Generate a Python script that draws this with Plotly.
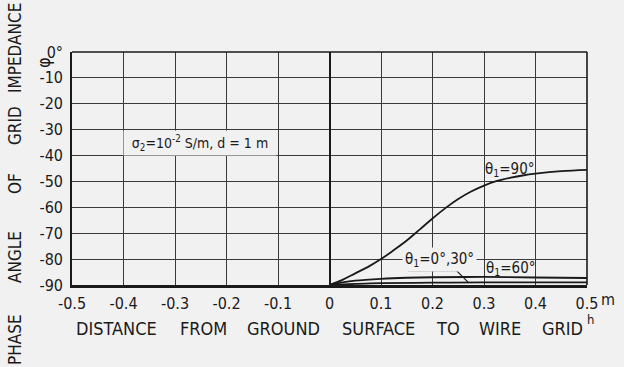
import plotly.graph_objects as go

# Phase angle of grid impedance vs. height of the wire grid above ground
h_90 = [0, 0.025, 0.05, 0.075, 0.1, 0.125, 0.15, 0.175, 0.2, 0.225, 0.25,
        0.275, 0.3, 0.325, 0.35, 0.375, 0.4, 0.45, 0.5]
phi_90 = [-90, -88, -85.5, -83, -80, -76.5, -72.8, -68.6, -64.3, -60.3, -56.8,
          -53.9, -51.6, -49.8, -48.6, -47.7, -47, -46, -45.5]

h_60 = [0, 0.025, 0.05, 0.1, 0.15, 0.2, 0.3, 0.4, 0.5]
phi_60 = [-90, -89, -88.3, -87.6, -87.2, -87.0, -86.9, -87.1, -87.3]

h_0_30 = [0, 0.05, 0.1, 0.2, 0.3, 0.5]
phi_0_30 = [-90, -89.6, -89.3, -89.1, -89.0, -89.0]

x_ticks = [-0.5, -0.4, -0.3, -0.2, -0.1, 0, 0.1, 0.2, 0.3, 0.4, 0.5]
x_ticktext = ["-0.5", "-0.4", "-0.3", "-0.2", "-0.1", "0", "0.1", "0.2", "0.3", "0.4", "0.5"]
y_ticks = [0, -10, -20, -30, -40, -50, -60, -70, -80, -90]
y_ticktext = ["0°", "-10", "-20", "-30", "-40", "-50", "-60", "-70", "-80", "-90"]

y_title_words = ["PHASE", "ANGLE", "OF", "GRID", "IMPEDANCE"]
x_title_words = ["DISTANCE", "FROM", "GROUND", "SURFACE", "TO", "WIRE", "GRID"]

BG = "#f1f1f1"
INK = "#1a1a1a"
FONT = "Liberation Sans Narrow, DejaVu Sans Condensed, Arial Narrow, sans-serif"

# plot-area geometry in pixels, used to place the spaced-out titles
L, R, T, B = 72, 587, 52, 285


def px_x(px):
    return (px - L) / (R - L)


def px_y(py):
    return (B - py) / (B - T)


fig = go.Figure()
for hx, py in [(h_90, phi_90), (h_60, phi_60), (h_0_30, phi_0_30)]:
    fig.add_trace(go.Scatter(x=hx, y=py, mode="lines", line=dict(color=INK, width=1.8),
                             line_shape="spline", showlegend=False, hoverinfo="skip"))

fig.update_layout(
    width=624, height=367,
    margin=dict(l=L, r=624 - R, t=T, b=367 - B),
    paper_bgcolor=BG, plot_bgcolor=BG,
    font=dict(family=FONT, size=15, color=INK),
    showlegend=False,
)
fig.update_xaxes(
    range=[-0.5, 0.5], tickvals=x_ticks, ticktext=x_ticktext,
    showgrid=True, gridcolor="#3a3a3a", gridwidth=1,
    zeroline=True, zerolinecolor=INK, zerolinewidth=2,
    showline=True, linecolor=INK, linewidth=3, mirror=False,
    ticks="", tickfont=dict(size=16), ticklabelstandoff=2,
)
fig.update_yaxes(
    range=[-90, 0], tickvals=y_ticks, ticktext=y_ticktext,
    showgrid=True, gridcolor="#3a3a3a", gridwidth=1,
    zeroline=False,
    showline=True, linecolor=INK, linewidth=1.6, mirror=False,
    ticks="", tickfont=dict(size=16), ticklabelstandoff=4,
)

# top and right frame edges
fig.add_shape(type="line", xref="paper", yref="paper", x0=0, x1=1, y0=1, y1=1,
              line=dict(color=INK, width=1.6))
fig.add_shape(type="line", xref="paper", yref="paper", x0=1, x1=1, y0=0, y1=1,
              line=dict(color=INK, width=1.6))

# parameter box
fig.add_annotation(x=-0.252, y=-35.0, text="σ<sub>2</sub>=10<sup>-2</sup> S/m, d = 1 m",
                   showarrow=False, bgcolor=BG, width=150, height=22, borderpad=1,
                   xanchor="center", yanchor="middle", font=dict(size=14))

# curve labels
fig.add_annotation(x=0.350, y=-45.2, text="θ<sub>1</sub>=90°", showarrow=False,
                   xanchor="center", yanchor="middle", font=dict(size=15))
fig.add_annotation(x=0.213, y=-80.3, text="θ<sub>1</sub>=0°,30°", showarrow=False,
                   bgcolor=BG, borderpad=2, xanchor="center", yanchor="middle",
                   font=dict(size=15))
fig.add_annotation(x=0.353, y=-83.8, text="θ<sub>1</sub>=60°", showarrow=False,
                   xanchor="center", yanchor="middle", font=dict(size=15))
# leader from the 0°,30° label down to its curve
fig.add_shape(type="path", path="M 0.152 -84.5 L 0.247 -84.5 L 0.270 -89.1",
              line=dict(color=INK, width=1.2))

# unit suffix and h marker on the x axis
fig.add_annotation(xref="paper", yref="paper", x=px_x(599), y=px_y(299),
                   xanchor="left", yanchor="middle", text="m", showarrow=False,
                   font=dict(size=16))
fig.add_annotation(xref="paper", yref="paper", x=px_x(590), y=px_y(319),
                   xanchor="center", yanchor="middle", text="h", showarrow=False,
                   font=dict(size=13))

# phi symbol by the y axis
fig.add_annotation(xref="paper", yref="paper", x=px_x(44), y=px_y(63), text="φ",
                   textangle=-90, xanchor="center", yanchor="middle", showarrow=False,
                   font=dict(size=18))

# spaced-out axis titles
y_centers = [340, 257, 184, 126, 48]
for word, cy in zip(y_title_words, y_centers):
    fig.add_annotation(xref="paper", yref="paper", x=px_x(15), y=px_y(cy),
                       xanchor="center", yanchor="middle",
                       text=word, textangle=-90, showarrow=False, font=dict(size=17))

x_centers = [116, 203, 283, 378, 448, 500, 562]
for word, cx in zip(x_title_words, x_centers):
    fig.add_annotation(xref="paper", yref="paper", x=px_x(cx), y=px_y(328),
                       xanchor="center", yanchor="middle",
                       text=word, showarrow=False, font=dict(size=18))

fig.write_html("out.html")
